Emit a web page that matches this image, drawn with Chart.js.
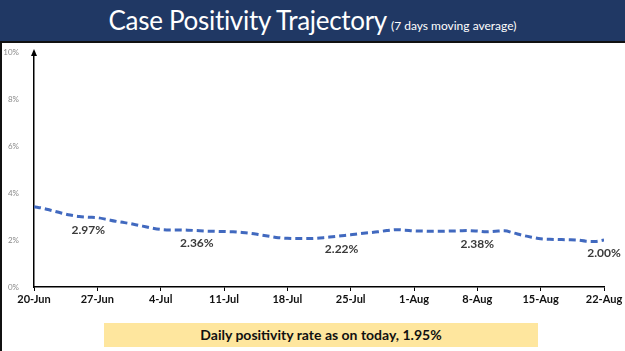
<!DOCTYPE html>
<html>
<head>
<meta charset="utf-8">
<script src="https://cdn.jsdelivr.net/npm/chart.js@4.4.0/dist/chart.umd.min.js"></script>
<style>
  html, body { margin: 0; padding: 0; background: #fff; }
  #wrap { position: relative; width: 625px; height: 351px; overflow: hidden; }
  #chart { position: absolute; left: 0; top: 0; }
  .title-bar {
    position: absolute; left: 0; top: 0; width: 625px; height: 41px;
    background: #203864; border-bottom: 2px solid #111;
    color: #fff; font-family: Lato, sans-serif; text-align: center;
    line-height: 41px; white-space: nowrap;
  }
  .title-bar .main { font-size: 26px; letter-spacing: -0.3px; }
  .title-bar .sub { font-size: 12px; margin-left: 4px; }
  .left-edge { position: absolute; left: 0; top: 43px; width: 2px; height: 308px; background: #111; }
  .note {
    position: absolute; left: 104px; top: 323px; width: 434px; height: 24px;
    background: #fee69e; color: #111; font-family: Lato, sans-serif;
    font-weight: bold; font-size: 14px; line-height: 24px; text-align: center;
  }
</style>
</head>
<body>
<div id="wrap">
  <canvas id="chart" width="625" height="351"></canvas>
  <div class="title-bar"><span class="main">Case Positivity Trajectory</span><span class="sub">(7 days moving average)</span></div>
  <div class="left-edge"></div>
  <div class="note">Daily positivity rate as on today, 1.95%</div>
</div>
<script>
// ---------------------------------------------------------------
// Dữ liệu: tỷ lệ dương tính trung bình 7 ngày, 20-Jun -> 22-Aug
// ---------------------------------------------------------------
const weekLabels = ['20-Jun', '27-Jun', '4-Jul', '11-Jul', '18-Jul', '25-Jul', '1-Aug', '8-Aug', '15-Aug', '22-Aug'];

const positivity = [
  3.42, 3.35, 3.25, 3.15, 3.06, 3.00, 2.97,   // 20-Jun .. 26-Jun
  2.95, 2.88, 2.80, 2.74, 2.67, 2.59, 2.51,   // 27-Jun .. 3-Jul
  2.45, 2.43, 2.43, 2.42, 2.40, 2.38, 2.37,   // 4-Jul .. 10-Jul
  2.36, 2.35, 2.32, 2.28, 2.22, 2.16, 2.10,   // 11-Jul .. 17-Jul
  2.07, 2.06, 2.06, 2.07, 2.10, 2.14, 2.18,   // 18-Jul .. 24-Jul
  2.22, 2.27, 2.31, 2.35, 2.40, 2.44, 2.42,   // 25-Jul .. 31-Jul
  2.39, 2.38, 2.37, 2.37, 2.38, 2.39, 2.40,   // 1-Aug .. 7-Aug
  2.38, 2.35, 2.37, 2.39, 2.30, 2.20, 2.12,   // 8-Aug .. 14-Aug
  2.05, 2.03, 2.02, 2.01, 2.00, 1.95, 1.94,   // 15-Aug .. 21-Aug
  2.00                                        // 22-Aug
];

// nhãn giá trị hiển thị trên đường
const labelDays = [6, 18, 34, 49, 63];
const labelTexts = ['2.97%', '2.36%', '2.22%', '2.38%', '2.00%'];

const yTicks = [0, 2, 4, 6, 8, 10];

// plugin: mũi tên trục Y + nhãn giá trị
const extrasPlugin = {
  id: 'extras',
  afterDatasetsDraw(chart) {
    const { ctx, scales: { x, y } } = chart;
    ctx.save();
    // mũi tên đầu trục Y
    const ax = x.getPixelForValue(0);
    const ay = y.getPixelForValue(10);
    ctx.fillStyle = '#000';
    ctx.beginPath();
    ctx.moveTo(ax, ay - 3);
    ctx.lineTo(ax - 3, ay + 4);
    ctx.lineTo(ax + 3, ay + 4);
    ctx.closePath();
    ctx.fill();
    // nhãn giá trị
    ctx.font = 'bold 12px Lato, sans-serif';
    ctx.fillStyle = '#3a3a3a';
    ctx.textAlign = 'center';
    ctx.textBaseline = 'middle';
    labelDays.forEach((d, i) => {
      const px = x.getPixelForValue(d);
      const py = y.getPixelForValue(positivity[d]) + 13;
      ctx.fillText(labelTexts[i], px, py);
    });
    ctx.restore();
  }
};

new Chart(document.getElementById('chart').getContext('2d'), {
  type: 'line',
  data: {
    datasets: [{
      data: positivity.map((v, i) => ({ x: i, y: v })),
      borderColor: '#4169bf',
      borderWidth: 3,
      borderDash: [7, 4],
      pointRadius: 0,
      tension: 0.4,
      cubicInterpolationMode: 'monotone',
      fill: false
    }]
  },
  options: {
    responsive: false,
    animation: false,
    layout: { padding: { top: 52, right: 21, bottom: 34, left: 0 } },
    plugins: { legend: { display: false }, tooltip: { enabled: false } },
    scales: {
      x: {
        type: 'linear',
        min: 0,
        max: positivity.length - 1,
        afterBuildTicks: (scale) => { scale.ticks = weekLabels.map((_, i) => ({ value: i * 7 })); },
        afterFit: (scale) => { scale.height = 30; },
        grid: { drawOnChartArea: false, drawTicks: true, tickLength: 4, color: '#000' },
        border: { display: true, color: '#000', width: 1.5 },
        ticks: {
          autoSkip: false,
          maxRotation: 0,
          padding: 2,
          color: '#111',
          font: { family: 'Lato, sans-serif', size: 11, weight: 'bold' },
          callback: (v) => weekLabels[v / 7]
        }
      },
      y: {
        min: 0,
        max: 10,
        afterBuildTicks: (scale) => { scale.ticks = yTicks.map(v => ({ value: v })); },
        afterFit: (scale) => { scale.width = 34; },
        grid: { display: false },
        border: { display: true, color: '#000', width: 1.5 },
        ticks: {
          padding: 7,
          color: '#8a8a8a',
          font: { family: 'Lato, sans-serif', size: 8 },
          callback: (v) => v + '%'
        }
      }
    }
  },
  plugins: [extrasPlugin]
});
</script>
</body>
</html>
